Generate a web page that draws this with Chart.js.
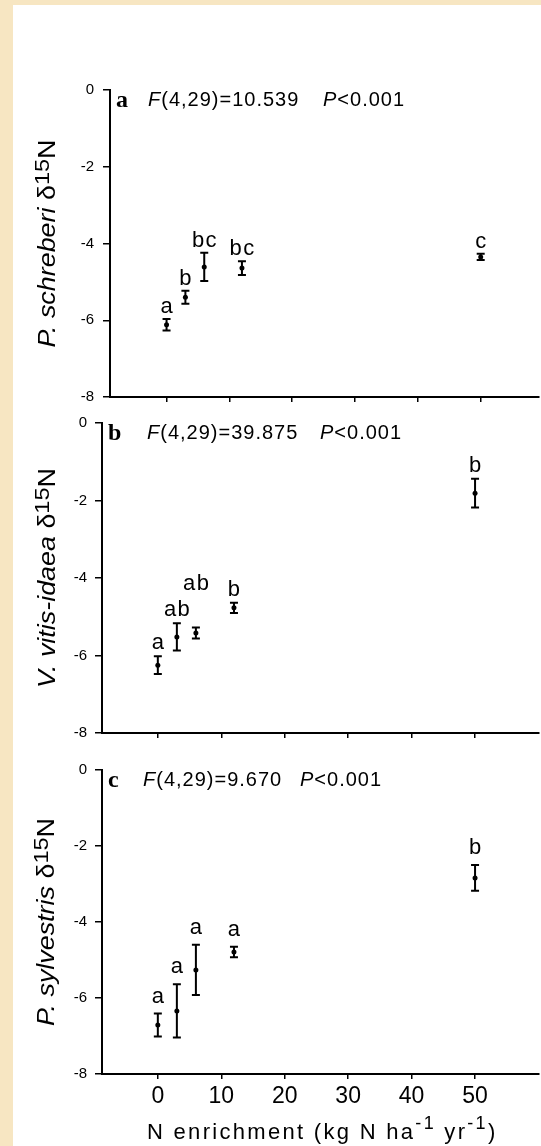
<!DOCTYPE html>
<html><head><meta charset="utf-8">
<script src="https://cdn.jsdelivr.net/npm/chart.js@4.4.1/dist/chart.umd.min.js"></script>
<style>
html,body{margin:0;padding:0;background:#fff;}
body{width:541px;height:1146px;position:relative;overflow:hidden;}
#frameTop{position:absolute;left:0;top:0;width:541px;height:5px;background:#f7e6c2;}
#frameLeft{position:absolute;left:0;top:0;width:13px;height:1146px;background:#f7e6c2;}
canvas{position:absolute;left:0;}
</style></head><body>
<div id="frameTop"></div><div id="frameLeft"></div>
<canvas id="cA" width="541" height="415" style="top:0px"></canvas>
<canvas id="cB" width="541" height="350" style="top:400px"></canvas>
<canvas id="cC" width="541" height="396" style="top:750px"></canvas>
<script>
// ---- data ----
const nLevels = [0, 3, 6, 12, 50];
const xTickValues = [0, 10, 20, 30, 40, 50];
const yTickValues = [-8, -6, -4, -2, 0];

const schreberiMean = [-6.12, -5.40, -4.61, -4.64, -4.35];
const schreberiSE   = [0.15, 0.17, 0.37, 0.18, 0.08];
const schreberiGroups = ['a', 'b', 'bc', 'bc', 'c'];
const schreberiStat = '(4,29)=10.539';

const vitisMean = [-6.25, -5.52, -5.42, -4.77, -1.81];
const vitisSE   = [0.23, 0.35, 0.14, 0.13, 0.37];
const vitisGroups = ['a', 'ab', 'ab', 'b', 'b'];
const vitisStat = '(4,29)=39.875';

const sylvestrisMean = [-6.71, -6.34, -5.26, -4.79, -2.84];
const sylvestrisSE   = [0.30, 0.70, 0.66, 0.14, 0.34];
const sylvestrisGroups = ['a', 'a', 'a', 'a', 'b'];
const sylvestrisStat = '(4,29)=9.670';

const pStat = '<0.001';
const xTitle = ['N enrichment (kg N ha', '-1', ' yr', '-1', ')'];

// ---- drawing helpers ----
const SANS = '"Liberation Sans", Arial, sans-serif';
function setLS(ctx, ls){ if ('letterSpacing' in ctx) ctx.letterSpacing = (ls||0) + 'px'; }
function richWidth(ctx, parts){
  let w = 0;
  parts.forEach(p => { ctx.font = p.font; setLS(ctx, p.ls); w += ctx.measureText(p.t).width; });
  setLS(ctx, 0);
  return w;
}
function drawRich(ctx, parts, x, y){
  parts.forEach(p => {
    ctx.font = p.font; setLS(ctx, p.ls);
    ctx.fillText(p.t, x, y - (p.rise || 0));
    x += ctx.measureText(p.t).width;
  });
  setLS(ctx, 0);
}

function decor(cfg){
  return {
    id: 'decor' + cfg.id,
    afterDatasetsDraw(chart){
      const {ctx, scales:{x, y}} = chart;
      ctx.save();
      ctx.strokeStyle = '#000'; ctx.fillStyle = '#000'; ctx.lineWidth = 2;
      nLevels.forEach((n, i) => {
        const px = x.getPixelForValue(n);
        const yt = y.getPixelForValue(cfg.mean[i] + cfg.se[i]);
        const yb = y.getPixelForValue(cfg.mean[i] - cfg.se[i]);
        ctx.beginPath();
        ctx.moveTo(px, yt); ctx.lineTo(px, yb);
        ctx.moveTo(px - 4, yt); ctx.lineTo(px + 4, yt);
        ctx.moveTo(px - 4, yb); ctx.lineTo(px + 4, yb);
        ctx.stroke();
        ctx.font = '22px ' + SANS; ctx.textAlign = 'center'; ctx.textBaseline = 'alphabetic';
        setLS(ctx, 1.5);
        ctx.fillText(cfg.groups[i], px + 0.75, yt - cfg.letterGap - (cfg.letterLift[i] || 0));
        setLS(ctx, 0);
      });
      ctx.restore();
    },
    afterDraw(chart){
      const {ctx, chartArea:{top, bottom, left, right}} = chart;
      ctx.save();
      ctx.fillStyle = '#000'; ctx.textAlign = 'left'; ctx.textBaseline = 'alphabetic';
      // panel letter
      ctx.font = 'bold 24px "Liberation Serif", "Times New Roman", serif';
      ctx.fillText(cfg.letter, left + 6, top + 17);
      // statistics
      drawRich(ctx, [{t:'F', font:'italic 20px ' + SANS, ls: 1}, {t:cfg.stat, font:'20px ' + SANS, ls: 1}], cfg.fX, top + 16);
      drawRich(ctx, [{t:'P', font:'italic 20px ' + SANS, ls: 1}, {t:pStat, font:'20px ' + SANS, ls: 1}], cfg.pX, top + 16);
      // y title (rotated, slightly stretched along its length like the original)
      ctx.save();
      ctx.translate(cfg.titleX, (top + bottom) / 2);
      ctx.rotate(-Math.PI / 2);
      ctx.scale(1.12, 1);
      const yParts = [
        {t: cfg.species, font: 'italic 24px ' + SANS},
        {t: ' δ', font: '24px ' + SANS},
        {t: '15', font: '21px ' + SANS, rise: 6},
        {t: 'N', font: '24px ' + SANS}
      ];
      const w = richWidth(ctx, yParts);
      drawRich(ctx, yParts, -w / 2, 9);
      ctx.restore();
      // x title
      if (cfg.showXTitle){
        const xp = [
          {t: xTitle[0], font: '22px ' + SANS, ls: 2.3},
          {t: xTitle[1], font: '18px ' + SANS, rise: 10, ls: 2.3},
          {t: xTitle[2], font: '22px ' + SANS, ls: 2.3},
          {t: xTitle[3], font: '18px ' + SANS, rise: 10, ls: 2.3},
          {t: xTitle[4], font: '22px ' + SANS, ls: 2.3}
        ];
        const wx = richWidth(ctx, xp);
        drawRich(ctx, xp, (left + right) / 2 + 2 - wx / 2, cfg.xTitleBaseline);
      }
      ctx.restore();
    }
  };
}

function makePanel(canvasId, cfg){
  const pts = nLevels.map((n, i) => ({x: n, y: cfg.mean[i]}));
  return new Chart(document.getElementById(canvasId), {
    type: 'scatter',
    data: {datasets: [{data: pts, pointRadius: 2.5, pointHoverRadius: 2.5,
      pointBackgroundColor: '#000', pointBorderColor: '#000', pointBorderWidth: 0, showLine: false}]},
    options: {
      responsive: false, animation: false, devicePixelRatio: 1,
      layout: {padding: {top: cfg.padTop, left: 0, right: 0, bottom: 0}},
      plugins: {legend: {display: false}, tooltip: {enabled: false}, title: {display: false}},
      scales: {
        x: {
          type: 'linear', position: 'bottom', min: cfg.xMin, max: cfg.xMax,
          afterBuildTicks: s => { s.ticks = xTickValues.map(v => ({value: v})); },
          afterFit: s => { s.height = cfg.xAxisHeight; },
          ticks: {display: cfg.showXLabels, color: '#000', autoSkip: false, maxRotation: 0,
            font: {family: SANS, size: 23}, padding: 4,
            callback: v => String(v)},
          grid: {drawOnChartArea: false, drawTicks: true, tickLength: 5, color: '#000', lineWidth: 1.5},
          border: {display: true, color: '#000', width: 2}
        },
        y: {
          type: 'linear', position: 'left', min: -8, max: 0,
          afterBuildTicks: s => { s.ticks = yTickValues.map(v => ({value: v})); },
          afterFit: s => { s.width = cfg.axisLeft; },
          ticks: {color: '#000', font: {family: SANS, size: 15}, padding: cfg.yTickPad, callback: v => String(v)},
          grid: {drawOnChartArea: false, drawTicks: true, tickLength: 7, color: '#000', lineWidth: 1.5},
          border: {display: true, color: '#000', width: 2}
        }
      }
    },
    plugins: [decor(cfg)]
  });
}

makePanel('cA', {id: 'A', mean: schreberiMean, se: schreberiSE, groups: schreberiGroups,
  letter: 'a', species: 'P. schreberi', stat: schreberiStat,
  padTop: 90, xAxisHeight: 18, axisLeft: 110, yTickPad: 9, xMin: -9.0, xMax: 59.2,
  showXLabels: false, showXTitle: false, fX: 148, pX: 323, titleX: 46,
  letterGap: 6, letterLift: [0, 0, 0, 0, 0]});

makePanel('cB', {id: 'B', mean: vitisMean, se: vitisSE, groups: vitisGroups,
  letter: 'b', species: 'V. vitis-idaea', stat: vitisStat,
  padTop: 23, xAxisHeight: 17, axisLeft: 102, yTickPad: 8, xMin: -8.8, xMax: 60.0,
  showXLabels: false, showXTitle: false, fX: 147, pX: 320, titleX: 46,
  letterGap: 7, letterLift: [0, 0, 31, 0, 0]});

makePanel('cC', {id: 'C', mean: sylvestrisMean, se: sylvestrisSE, groups: sylvestrisGroups,
  letter: 'c', species: 'P. sylvestris', stat: sylvestrisStat,
  padTop: 20, xAxisHeight: 72, axisLeft: 102, yTickPad: 8, xMin: -8.8, xMax: 60.0,
  showXLabels: true, showXTitle: true, fX: 143, pX: 300, titleX: 45, xTitleBaseline: 389,
  letterGap: 11, letterLift: [0, 0, 0, 0, 0]});
</script>
</body></html>
